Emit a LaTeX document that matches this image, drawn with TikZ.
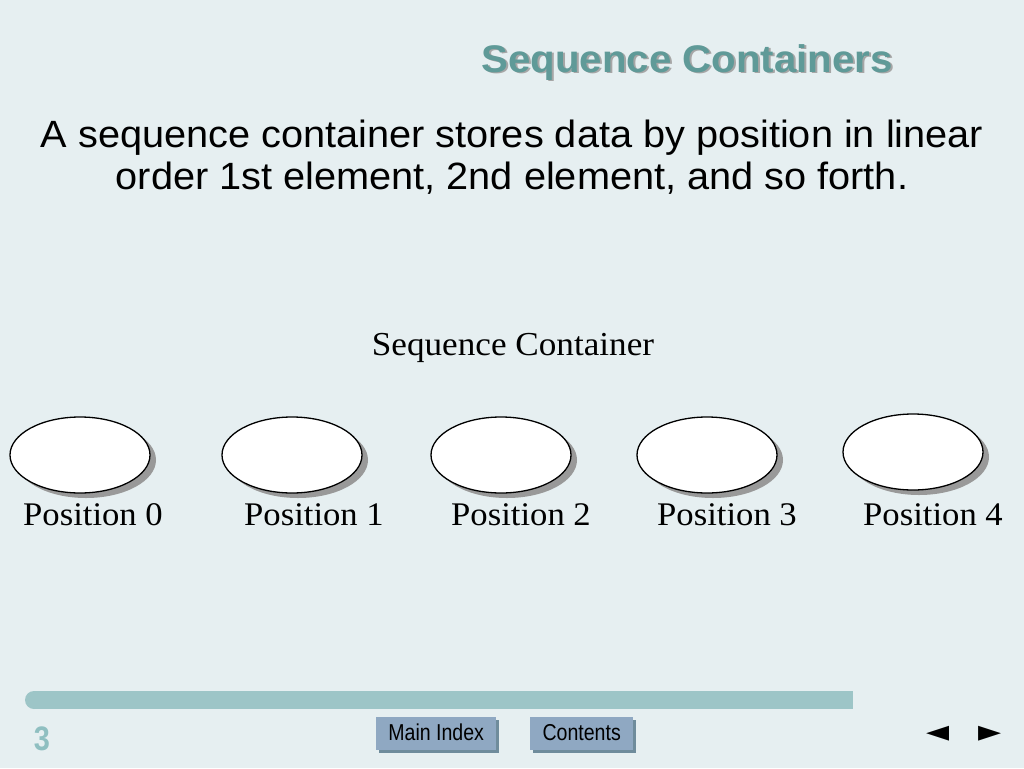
\documentclass[tikz,border=0pt]{standalone}
\usepackage{fontspec}
\setmainfont{Liberation Serif}[FakeStretch=1.05]
\setsansfont{Liberation Sans}[FakeStretch=1.045]
\newfontfamily\narrowfont{Liberation Sans}[FakeStretch=0.85]
\newfontfamily\symfont{DejaVu Sans}
\usetikzlibrary{shapes.geometric,shadows}
\definecolor{bgc}{HTML}{E6EFF1}
\definecolor{titlec}{HTML}{5F9A98}
\definecolor{barc}{HTML}{9DC5C7}
\definecolor{numc}{HTML}{8FBFC1}
\definecolor{btnc}{HTML}{8FA8C2}
\definecolor{btnsh}{HTML}{6F8C9C}
\tikzset{
  slot/.style={ellipse, draw=black, line width=1.3pt, fill=white,
    minimum width=140pt, minimum height=76pt, inner sep=0pt,
    drop shadow={shadow xshift=6pt, shadow yshift=-5pt, fill=black!40, opacity=1}},
  poslabel/.style={font=\fontsize{33}{38}\selectfont, anchor=base, inner sep=0pt},
  btn/.style={fill=btnc, draw=none, inner sep=0pt, anchor=north west,
    text height=15pt, text depth=2pt,
    font=\narrowfont\fontsize{23}{26}\selectfont,
    drop shadow={shadow xshift=3pt, shadow yshift=-3pt, fill=btnsh, opacity=1}},
}
\begin{document}
\begin{tikzpicture}[x=1pt,y=-1pt]
\fill[bgc] (0,0) rectangle (1024,768);
\useasboundingbox (0,0) rectangle (1024,768);
% title
\node[anchor=base, inner sep=0pt, text=black!35, font=\sffamily\bfseries\fontsize{38.5}{44}\selectfont] (titlesh) at (689,74) {Sequence Containers};
\node[anchor=base, inner sep=0pt, text=titlec, font=\sffamily\bfseries\fontsize{38.5}{44}\selectfont] (title) at (687,72) {Sequence Containers};
% body
\node[anchor=base, inner sep=0pt, font=\sffamily\fontsize{38}{42}\selectfont] (body1) at (512,147) {A sequence container stores data by position in linear};
\node[anchor=base, inner sep=0pt, font=\sffamily\fontsize{38}{42}\selectfont] (body2) at (512,189) {order 1st element, 2nd element, and so forth.};
% diagram
\node[anchor=base, inner sep=0pt, font=\fontsize{33.5}{38}\selectfont] (cap) at (513,355) {Sequence Container};
\node[slot] (e0) at (80,455) {};
\node[slot] (e1) at (292,455) {};
\node[slot] (e2) at (501,455) {};
\node[slot] (e3) at (707,455) {};
\node[slot] (e4) at (913,452) {};
\node[poslabel] (p0) at (93,525) {Position 0};
\node[poslabel] (p1) at (314,525) {Position 1};
\node[poslabel] (p2) at (521,525) {Position 2};
\node[poslabel] (p3) at (727,525) {Position 3};
\node[poslabel] (p4) at (933,525) {Position 4};
% footer
\fill[barc] (34,691) rectangle (853,709);
\fill[barc] (34,700) circle (9);
\node[anchor=center, inner sep=0pt, text=numc, font=\narrowfont\bfseries\fontsize{34}{38}\selectfont] (num) at (42,739) {3};
\node[btn, minimum width=120pt, minimum height=33pt] (mainidx) at (376,717) {Main Index};
\node[btn, minimum width=103pt, minimum height=33pt] (contents) at (530,717) {Contents};
\node[inner sep=0pt, font=\symfont\fontsize{30}{34}\selectfont] (prev) at (938,734) {◄};
\node[inner sep=0pt, font=\symfont\fontsize{30}{34}\selectfont] (next) at (990,734) {►};
\end{tikzpicture}
\end{document}
